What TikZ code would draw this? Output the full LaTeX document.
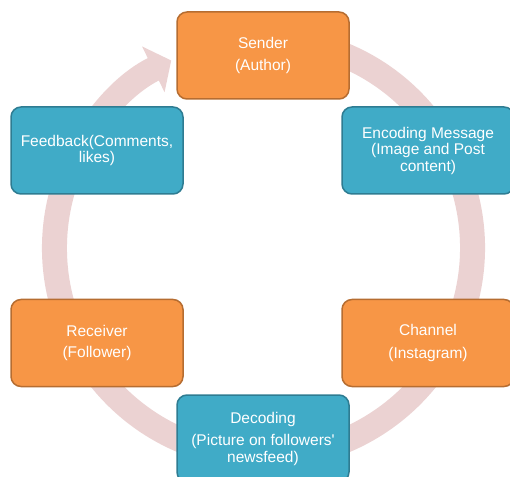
\documentclass[tikz,border=0pt]{standalone}
\usepackage{fontspec}
\setmainfont{Liberation Sans}
\usepackage{tikz}
\usetikzlibrary{arrows.meta}
\definecolor{stageorange}{RGB}{247,150,70}
\definecolor{stageorangeline}{RGB}{182,109,49}
\definecolor{stageblue}{RGB}{64,171,199}
\definecolor{stageblueline}{RGB}{46,124,146}
\definecolor{cyclepink}{RGB}{235,210,210}

\begin{document}
\begin{tikzpicture}[
        x=1pt,y=1pt,
        every node/.style={font=\fontsize{15.5}{16.5}\selectfont,align=center,text=white},
        stage/.style={draw,rounded corners=10pt,line width=1.5pt,
                   minimum width=172pt,minimum height=87pt,inner sep=3pt},
        orangebox/.style={stage,fill=stageorange,draw=stageorangeline},
        bluebox/.style={stage,fill=stageblue,draw=stageblueline},
        ring/.style={draw=cyclepink,line width=25pt,
                   -{Triangle[width=50pt,length=20pt]}}
    ]
        \useasboundingbox (0,0) rectangle (510,476);
        \coordinate (hub) at (263.5,228);
        % cycle arrow behind the stages
        \draw[ring] ([shift={(75:209pt)}]hub) arc[start angle=75,end angle=-243.8,radius=209pt];
        \node[orangebox] (sender) at (263,420.5) {Sender\\[6pt](Author)};
        \node[bluebox] (encoding) at (428,325.5) {Encoding Message\\(Image and Post\\content)};
        \node[orangebox] (channel) at (428,133) {Channel\\[6pt](Instagram)};
        \node[bluebox] (decoding) at (263,37.5) {Decoding\\[6pt](Picture on followers\textquotesingle\\newsfeed)};
        \node[orangebox] (receiver) at (97,133) {Receiver\\[5pt](Follower)};
        \node[bluebox] (feedback) at (97,325.5) {Feedback(Comments,\\likes)};
    \end{tikzpicture}
\end{document}
